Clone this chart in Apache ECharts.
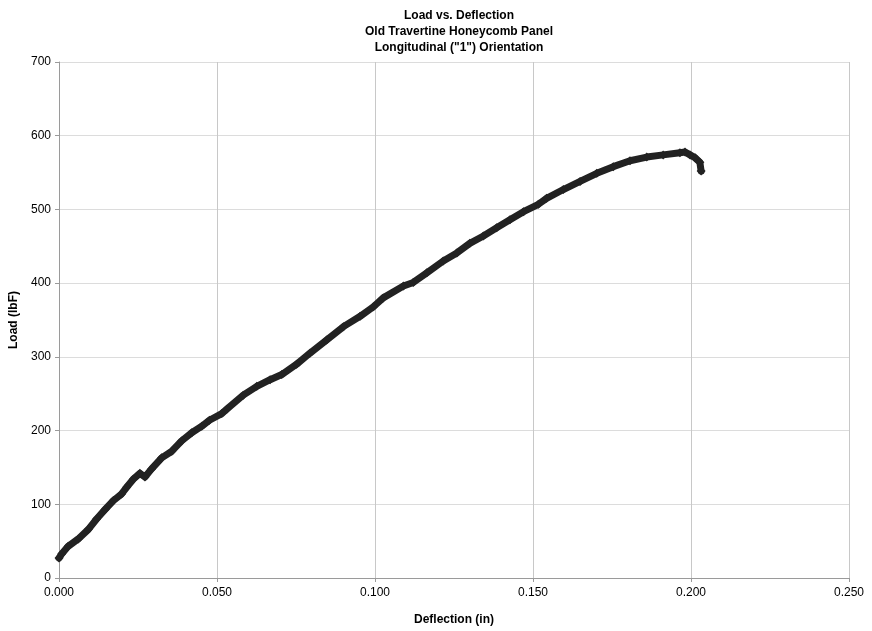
<!DOCTYPE html>
<html>
<head>
<meta charset="utf-8">
<script src="https://cdn.jsdelivr.net/npm/echarts@6/dist/echarts.min.js"></script>
<style>html,body{margin:0;padding:0;background:#fff}#c{width:872px;height:631px}</style>
</head>
<body>
<div id="c"></div>
<script>
const titleLines = ["Load vs. Deflection", "Old Travertine Honeycomb Panel", "Longitudinal (\"1\") Orientation"];
const xAxisTitle = "Deflection (in)";
const yAxisTitle = "Load (lbF)";
const xTicks = [0, 0.05, 0.10, 0.15, 0.20, 0.25];
const yTicks = [0, 100, 200, 300, 400, 500, 600, 700];

// Deflection (in)
const deflection = [
  0.0000, 0.0009, 0.0029, 0.0061, 0.0093, 0.0119, 0.0146, 0.0172, 0.0198, 0.0214,
  0.0235, 0.0256, 0.0272, 0.0293, 0.0325, 0.0357, 0.0388, 0.0420, 0.0452, 0.0476,
  0.0515, 0.0531, 0.0583, 0.0626, 0.0668, 0.0705, 0.0752, 0.0794, 0.0847, 0.0900,
  0.0953, 0.0995, 0.1026, 0.1090, 0.1121, 0.1164, 0.1216, 0.1259, 0.1300, 0.1343,
  0.1385, 0.1427, 0.1470, 0.1517, 0.1543, 0.1596, 0.1649, 0.1702, 0.1754, 0.1807,
  0.1860, 0.1912, 0.1965, 0.1981, 0.1997, 0.2013, 0.2028, 0.2032
];
// Load (lbF)
const load = [
  27, 33, 43, 53, 66, 80, 93, 105, 114, 123,
  134, 142, 137, 148, 163, 172, 186, 197, 206, 214,
  223, 229, 248, 260, 269, 276, 290, 305, 323, 341,
  355, 368, 380, 396, 401, 414, 430, 441, 454, 464,
  475, 486, 497, 507, 515, 527, 538, 549, 558, 566,
  571, 574, 577, 578, 574, 570, 564, 552
];

const points = deflection.map((d, i) => [d, load[i]]);
const chart = echarts.init(document.getElementById('c'), null, {renderer: 'canvas'});
const FONT = 'Liberation Sans, Arial, sans-serif';

chart.setOption({
  animation: false,
  backgroundColor: '#ffffff',
  title: titleLines.map((t, i) => ({
    text: t,
    left: 454,
    top: 5 + i * 16,
    textAlign: 'center',
    textStyle: {fontFamily: FONT, fontSize: 12, fontWeight: 'bold', color: '#000'}
  })),
  grid: {left: 59, right: 23, top: 62, bottom: 52, containLabel: false},
  xAxis: {
    type: 'value',
    min: xTicks[0], max: xTicks[xTicks.length - 1], interval: 0.05,
    name: xAxisTitle, nameLocation: 'middle', nameGap: 36,
    nameTextStyle: {fontFamily: FONT, fontSize: 12, fontWeight: 'bold', color: '#000'},
    axisLine: {show: true, lineStyle: {color: '#9a9a9a', width: 1}},
    axisTick: {show: true, length: 4, lineStyle: {color: '#9a9a9a'}},
    axisLabel: {fontFamily: FONT, fontSize: 12, color: '#000', margin: 9,
      formatter: v => v.toFixed(3)},
    splitLine: {show: true, lineStyle: {color: '#c8c8c8', width: 1}}
  },
  yAxis: {
    type: 'value',
    min: yTicks[0], max: yTicks[yTicks.length - 1], interval: 100,
    name: yAxisTitle, nameLocation: 'middle', nameGap: 39,
    nameTextStyle: {fontFamily: FONT, fontSize: 12, fontWeight: 'bold', color: '#000'},
    axisLine: {show: true, lineStyle: {color: '#9a9a9a', width: 1}},
    axisTick: {show: true, length: 4, lineStyle: {color: '#9a9a9a'}},
    axisLabel: {fontFamily: FONT, fontSize: 12, color: '#000', margin: 8},
    splitLine: {show: true, lineStyle: {color: '#dcdcdc', width: 1}}
  },
  series: [{
    type: 'line',
    data: points,
    symbol: 'diamond',
    symbolSize: 9,
    showAllSymbol: true,
    lineStyle: {color: '#222222', width: 7, join: 'round', cap: 'round'},
    itemStyle: {color: '#222222'},
    smooth: false
  }]
});
</script>
</body>
</html>
